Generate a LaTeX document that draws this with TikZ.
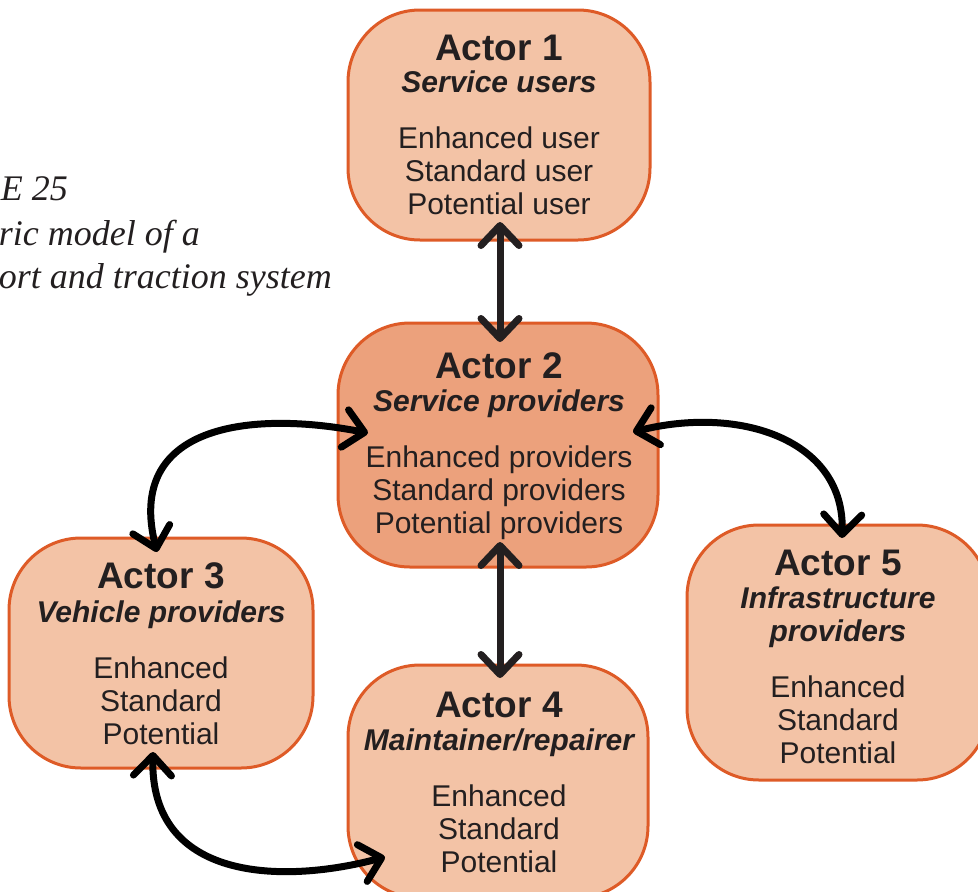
\documentclass[tikz,border=0pt]{standalone}
\usepackage{fontspec}
\setmainfont{Liberation Sans}
\newfontfamily\capfont{Liberation Serif}
\usetikzlibrary{arrows.meta}
\definecolor{boxfill}{HTML}{F3C3A6}
\definecolor{boxfilldark}{HTML}{ECA17C}
\definecolor{boxline}{HTML}{DE5B27}
\definecolor{ink}{HTML}{231F20}
\tikzset{
  actorbox/.style={draw=boxline, line width=3pt, fill=boxfill, rounded corners=72pt, inner sep=0pt},
  titletxt/.style={anchor=base, inner sep=0pt, text=ink, font=\fontsize{37}{40}\selectfont\bfseries},
  subtxt/.style={anchor=base, inner sep=0pt, text=ink, font=\fontsize{30}{33}\selectfont\bfseries\itshape},
  bodytxt/.style={anchor=base, inner sep=0pt, text=ink, font=\fontsize{30}{33}\selectfont},
  captxt/.style={anchor=base east, inner sep=0pt, text=ink, font=\fontsize{36}{44}\selectfont\capfont\itshape},
  conn/.style={line width=7pt, line cap=round,
    {Straight Barb[length=20pt,width=38pt,round]}-{Straight Barb[length=20pt,width=38pt,round]}},
}
\begin{document}
\begin{tikzpicture}[x=1pt,y=-1pt]
\useasboundingbox (0,0) rectangle (978,892);

% caption (clipped at the left edge)
\node[captxt] (cap1) at (68,200) {E 25};
\node[captxt] (cap2) at (200,245) {ric model of a};
\node[captxt] (cap3) at (332,288) {ort and traction system};

% boxes
\node[actorbox, minimum width=302pt, minimum height=230pt] (a1) at (499,125) {};
\node[actorbox, fill=boxfilldark, minimum width=320pt, minimum height=244pt] (a2) at (498,445) {};
\node[actorbox, minimum width=304pt, minimum height=230pt] (a3) at (161,653) {};
\node[actorbox, minimum width=300pt, minimum height=233pt] (a4) at (498,781.5) {};
\node[actorbox, minimum width=302pt, minimum height=255pt] (a5) at (838,652.5) {};

% texts
\node[titletxt] (a1t) at (499,60) {Actor 1};
\node[subtxt] (a1s) at (499,92) {Service users};
\foreach \t [count=\i] in {Enhanced user, Standard user, Potential user}
  \node[bodytxt] (a1b\i) at (499,{148+33*(\i-1)}) {\t};

\node[titletxt] (a2t) at (499,378) {Actor 2};
\node[subtxt] (a2s) at (499,411) {Service providers};
\foreach \t [count=\i] in {Enhanced providers, Standard providers, Potential providers}
  \node[bodytxt] (a2b\i) at (499,{467+33*(\i-1)}) {\t};

\node[titletxt] (a3t) at (161,588) {Actor 3};
\node[subtxt] (a3s) at (161,622) {Vehicle providers};
\foreach \t [count=\i] in {Enhanced, Standard, Potential}
  \node[bodytxt] (a3b\i) at (161,{678+33*(\i-1)}) {\t};

\node[titletxt] (a4t) at (499,717) {Actor 4};
\node[subtxt] (a4s) at (499,750) {Maintainer/repairer};
\foreach \t [count=\i] in {Enhanced, Standard, Potential}
  \node[bodytxt] (a4b\i) at (499,{806+33*(\i-1)}) {\t};

\node[titletxt] (a5t) at (838,575) {Actor 5};
\node[subtxt] (a5s1) at (838,608) {Infrastructure};
\node[subtxt] (a5s2) at (838,641) {providers};
\foreach \t [count=\i] in {Enhanced, Standard, Potential}
  \node[bodytxt] (a5b\i) at (838,{697+33*(\i-1)}) {\t};

% connector end points
\coordinate (c12a) at (500,222);
\coordinate (c12b) at (500,342);
\coordinate (c24a) at (500,542);
\coordinate (c24b) at (500,678);
\coordinate (c23a) at (368,433);
\coordinate (c23b) at (157,552);
\coordinate (c25a) at (633,432);
\coordinate (c25b) at (842,538);
\coordinate (c34a) at (153,752);
\coordinate (c34b) at (385,857);

% connectors
\draw[conn, draw=ink] (c12a) -- (c12b);
\draw[conn, draw=ink] (c24a) -- (c24b);
\draw[conn, draw=black] (c23a) .. controls (250,410) and (125,425) .. (c23b);
\draw[conn, draw=black] (c25a) .. controls (740,405) and (845,440) .. (c25b);
\draw[conn, draw=black] (c34a) .. controls (150,880) and (280,885) .. (c34b);
\end{tikzpicture}
\end{document}
